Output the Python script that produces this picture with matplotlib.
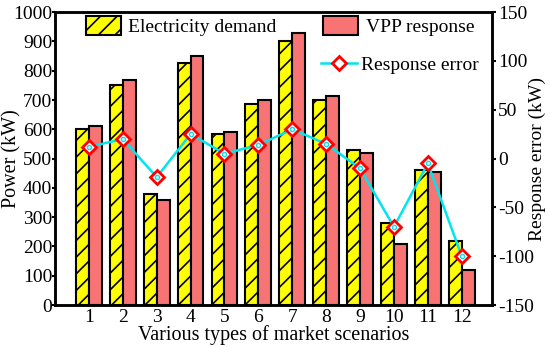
import matplotlib.pyplot as plt
import numpy as np

plt.rcParams['font.family'] = ['Liberation Serif', 'DejaVu Serif']
plt.rcParams['hatch.linewidth'] = 1.2
plt.rcParams['axes.unicode_minus'] = False

scenarios = list(range(1, 13))
demand = [600, 750, 380, 825, 585, 685, 900, 700, 530, 280, 460, 220]
vpp = [612, 770, 360, 850, 592, 700, 930, 715, 520, 210, 455, 120]
error = [12, 20, -19, 25, 5, 14, 30, 15, -10, -70, -5, -100]

x = np.array(scenarios)
w = 0.38

fig, ax = plt.subplots(figsize=(5.5, 3.47), dpi=100)
fig.subplots_adjust(left=0.1, right=0.895, top=0.965, bottom=0.121)

b1 = ax.bar(x - w / 2, demand, w, color='#FFFF00', edgecolor='black', lw=1.5,
            hatch='//', label='Electricity demand')
b2 = ax.bar(x + w / 2, vpp, w, color='#F87474', edgecolor='black', lw=1.5,
            label='VPP response')
ax.set_xlim(0, 12.9)
ax.set_ylim(0, 1000)
ax.set_yticks(range(0, 1001, 100))
ax.set_xticks(scenarios)
ax.set_xlabel('Various types of market scenarios', fontsize=14.5, labelpad=-1)
ax.set_ylabel('Power (kW)', fontsize=14.5)
ax.yaxis.set_label_coords(-0.077, 0.5)
ax.tick_params(axis='x', length=0, labelsize=14, pad=3)
ax.tick_params(axis='y', direction='out', length=2, width=1.5, labelsize=14, pad=0)
for s in ax.spines.values():
    s.set_linewidth(1.8)

ax2 = ax.twinx()
ln, = ax2.plot(x, error, color='#00E5EE', lw=1.8, marker='D', ms=7,
               mfc='white', mec='red', mew=2, label='Response error')
ax2.plot(x, error, ls='none', marker='o', ms=3, mfc='none', mec='#00E5EE', mew=1)
ax2.set_ylim(-150, 150)
ax2.set_yticks(range(-150, 151, 50))
ax2.set_ylabel('Response error (kW)', fontsize=14)
ax2.yaxis.set_label_coords(1.084, 0.5)
ax2.tick_params(axis='y', direction='out', length=3, width=1.5, labelsize=14, pad=1)
for s in ax2.spines.values():
    s.set_linewidth(1.8)

leg1 = ax2.legend(handles=[b1, b2], loc='upper left', ncol=2, frameon=False,
                  fontsize=14, bbox_to_anchor=(0.03, 1.045), columnspacing=2.4,
                  handlelength=1.8, handleheight=1.1, handletextpad=0.4)
ax2.add_artist(leg1)
ax2.legend(handles=[ln], loc='upper right', frameon=False, fontsize=14,
           bbox_to_anchor=(1.01, 0.91), handlelength=1.9, handletextpad=0.2)

plt.savefig('out.png', dpi=100)
